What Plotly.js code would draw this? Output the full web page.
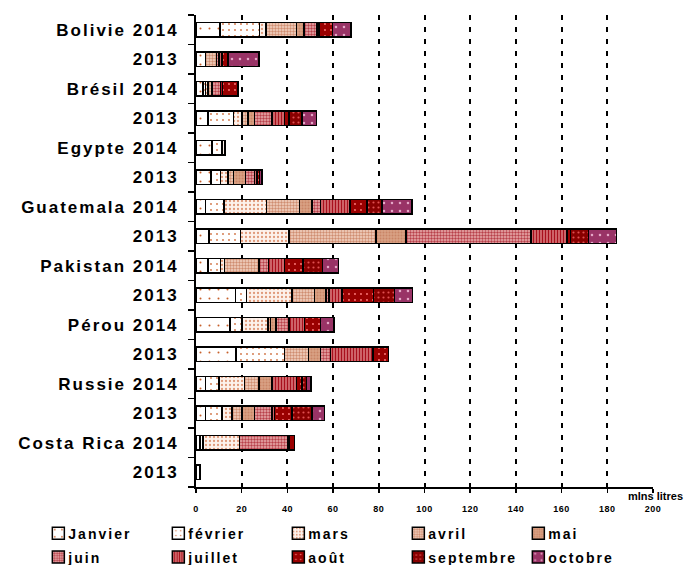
<!DOCTYPE html>
<html>
<head>
<meta charset="utf-8">
<script src="https://cdn.plot.ly/plotly-3.0.1.min.js"></script>
<style>
  html, body { margin: 0; padding: 0; background: #fff; }
  #chart { width: 685px; height: 565px; }
  .ytick text { letter-spacing: 2px; }
  .legendtext { letter-spacing: 2px; font-size: 14px !important; transform: translateX(-10px); }
  .xtick text { letter-spacing: 0.5px; }
</style>
</head>
<body>
<div id="chart"></div>
<script>
// Category ids (top to bottom) and displayed tick labels
const categories = [
  "Bolivie 2014", "Bolivie 2013", "Brésil 2014", "Brésil 2013",
  "Egypte 2014", "Egypte 2013", "Guatemala 2014", "Guatemala 2013",
  "Pakistan 2014", "Pakistan 2013", "Pérou 2014", "Pérou 2013",
  "Russie 2014", "Russie 2013", "Costa Rica 2014", "Costa Rica 2013"
];
const tickLabels = [
  "Bolivie 2014", "2013", "Brésil 2014", "2013",
  "Egypte 2014", "2013", "Guatemala 2014", "2013",
  "Pakistan 2014", "2013", "Pérou 2014", "2013",
  "Russie 2014", "2013", "Costa Rica 2014", "2013"
];
const months = ["Janvier", "février", "mars", "avril", "mai", "juin", "juillet", "août", "septembre", "octobre"];

// Values (mlns litres), one array per month, in category order
const janvier   = [10.4, 4.2, 3.1, 5.2, 7.1, 6.6, 4.2, 5.6, 5.2, 17.3, 14.8, 17.6, 4.2, 4.2, 1.7, 1.8];
const fevrier   = [17.4, 0, 1.1, 11.3, 4.3, 4.1, 8.0, 13.9, 5.5, 4.8, 5.4, 21.1, 5.8, 7.2, 1.4, 0];
const mars      = [2.9, 0, 1.1, 3.7, 1.2, 3.4, 18.6, 21.1, 1.8, 19.9, 11.4, 0, 11.2, 4.4, 16.0, 0];
const avril     = [13.2, 4.8, 1.8, 2.6, 0, 2.4, 14.6, 38.2, 15.0, 9.8, 1.0, 10.6, 6.3, 4.4, 0, 0];
const mai       = [3.4, 0, 0, 2.8, 0, 5.1, 5.4, 13.2, 0, 5.1, 2.5, 5.1, 5.8, 5.4, 0, 0];
const juin      = [5.7, 1.0, 3.6, 7.7, 0, 4.0, 3.6, 54.5, 4.3, 1.2, 5.5, 4.4, 0, 7.7, 21.2, 0];
const juillet   = [0.8, 1.4, 0.8, 5.5, 0, 1.1, 13.1, 15.8, 7.0, 5.8, 6.8, 18.7, 10.6, 1.0, 0.7, 0];
const aout      = [6.0, 2.7, 6.9, 1.8, 0, 1.1, 7.3, 1.7, 8.1, 13.8, 7.0, 6.8, 2.5, 7.7, 2.1, 0];
const septembre = [0, 0, 0, 5.8, 0, 0, 6.6, 7.7, 8.5, 9.1, 0, 0, 1.9, 8.8, 0, 0];
const octobre   = [8.0, 13.4, 0, 6.3, 0, 1.1, 13.1, 12.4, 7.0, 8.0, 6.1, 0, 2.0, 5.4, 0, 0];

const xTicks = [0, 20, 40, 60, 80, 100, 120, 140, 160, 180, 200];
const unitLabel = "mlns litres";

const series = [janvier, fevrier, mars, avril, mai, juin, juillet, aout, septembre, octobre];

const patterns = [
  {shape: ".", bgcolor: "#ffffff", fgcolor: "#c8602a", size: 9, solidity: 0.04},
  {shape: ".", bgcolor: "#ffffff", fgcolor: "#d07040", size: 6, solidity: 0.07},
  {shape: ".", bgcolor: "#fdf2ec", fgcolor: "#e09a7a", size: 4, solidity: 0.25},
  {shape: ".", bgcolor: "#f3d6c6", fgcolor: "#cf8d70", size: 3, solidity: 0.5},
  {shape: ".", bgcolor: "#d9a184", fgcolor: "#c98566", size: 3, solidity: 0.35},
  {shape: ".", bgcolor: "#eab0b0", fgcolor: "#b8404a", size: 3, solidity: 0.5},
  {shape: "|", bgcolor: "#e08a8a", fgcolor: "#a8101c", size: 3, solidity: 0.55},
  {shape: ".", bgcolor: "#9a0000", fgcolor: "#ff7a7a", size: 6, solidity: 0.08},
  {shape: ".", bgcolor: "#880000", fgcolor: "#e05050", size: 5, solidity: 0.15},
  {shape: ".", bgcolor: "#993366", fgcolor: "#e6a8c8", size: 8, solidity: 0.08}
];

const traces = months.map((m, i) => ({
  type: "bar",
  orientation: "h",
  name: m,
  y: categories,
  x: series[i],
  marker: {
    color: patterns[i].bgcolor,
    pattern: patterns[i],
    line: {color: "#000000", width: 1.5}
  },
  hoverinfo: "skip"
}));

const layout = {
  width: 685,
  height: 565,
  margin: {l: 196, r: 32, t: 15, b: 78, autoexpand: false},
  paper_bgcolor: "#ffffff",
  plot_bgcolor: "#ffffff",
  barmode: "stack",
  bargap: 0.5,
  showlegend: true,
  font: {family: "Liberation Sans, Arial, sans-serif", color: "#000000"},
  xaxis: {
    range: [0, 200],
    tickmode: "array",
    tickvals: xTicks,
    ticktext: xTicks.map(String),
    ticks: "outside",
    ticklen: 4,
    tickwidth: 1.5,
    tickcolor: "#000",
    showline: true,
    linecolor: "#000",
    linewidth: 2,
    showgrid: true,
    gridcolor: "#000",
    gridwidth: 2,
    griddash: "5px,7px",
    zeroline: false,
    ticklabelstandoff: 8,
    tickfont: {size: 9, weight: "bold", family: "Liberation Sans, Arial, sans-serif"},
    fixedrange: true
  },
  yaxis: {
    type: "category",
    autorange: "reversed",
    categoryorder: "array",
    categoryarray: categories,
    tickmode: "array",
    tickvals: categories,
    ticktext: tickLabels,
    tickson: "boundaries",
    ticks: "outside",
    ticklen: 6,
    tickwidth: 1.5,
    tickcolor: "#000",
    showline: true,
    linecolor: "#000",
    linewidth: 2,
    showgrid: false,
    zeroline: false,
    ticklabelstandoff: 12,
    tickfont: {size: 17, weight: "bold", family: "Liberation Sans, Arial, sans-serif"},
    fixedrange: true
  },
  legend: {
    orientation: "h",
    traceorder: "normal",
    x: -0.345,
    xanchor: "left",
    y: -0.062,
    yanchor: "top",
    entrywidth: 75,
    entrywidthmode: "pixels",
    font: {size: 16, weight: "bold", family: "Liberation Sans, Arial, sans-serif"},
    bgcolor: "rgba(0,0,0,0)",
    itemwidth: 30,
    tracegroupgap: 0
  },
  annotations: [{
    text: unitLabel,
    xref: "paper", yref: "paper",
    x: 1.005, y: -0.034,
    xanchor: "center", yanchor: "bottom",
    showarrow: false,
    borderpad: 0,
    font: {size: 11, weight: "bold", family: "Liberation Sans, Arial, sans-serif"}
  }]
};

Plotly.newPlot("chart", traces, layout, {displayModeBar: false, staticPlot: true});
</script>
</body>
</html>
